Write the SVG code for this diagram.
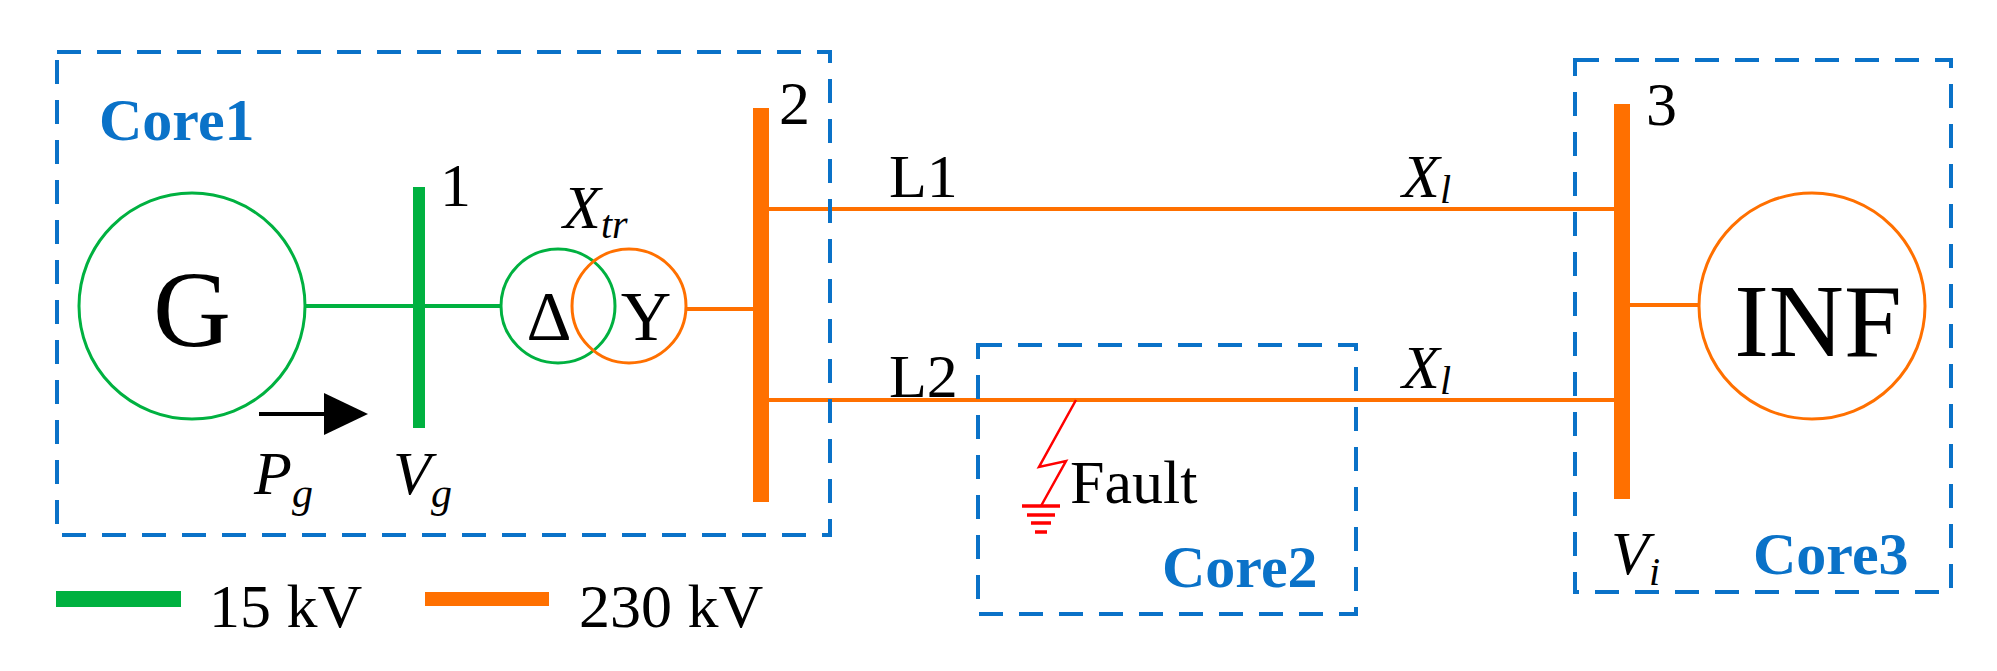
<svg xmlns="http://www.w3.org/2000/svg" width="1997" height="671" viewBox="0 0 1997 671">
<style>
.box{fill:none;stroke:#0a72c8;stroke-width:4;stroke-dasharray:24,16}
.core{font-family:"Liberation Serif",serif;font-size:60px;font-weight:bold;fill:#0a72c8}
.t{font-family:"Liberation Serif",serif;font-size:62px;fill:#000}
.i{font-style:italic}
.g{stroke:#00b140;fill:none}
.o{stroke:#ff7000;fill:none}
.f{stroke:#ff0000;fill:none}
</style>
<rect width="1997" height="671" fill="#fff"/>
<g id="connectors">
<line class="g" x1="305" y1="306" x2="501" y2="306" stroke-width="4"/>
<line class="o" x1="686" y1="309" x2="761" y2="309" stroke-width="4"/>
<line class="o" x1="761" y1="209" x2="1622" y2="209" stroke-width="4"/>
<line class="o" x1="761" y1="400" x2="1622" y2="400" stroke-width="4"/>
<line class="o" x1="1622" y1="305" x2="1699" y2="305" stroke-width="4"/>
<line x1="259" y1="414" x2="330" y2="414" stroke="#000" stroke-width="4"/>
<path d="M324,393 L368,414 L324,435Z" fill="#000"/>
</g>
<g id="core1"><rect class="box" x="57" y="52" width="773" height="483"/><text class="core" x="99" y="140">Core1</text></g>
<g id="core2"><rect class="box" x="978" y="345" width="378" height="269"/><text class="core" x="1162" y="587">Core2</text></g>
<g id="core3"><rect class="box" x="1575" y="60" width="376" height="532"/><text class="core" x="1753" y="574">Core3</text></g>
<g id="G"><circle class="g" cx="192" cy="306" r="113" stroke-width="3"/><text class="t" x="192" y="346" style="font-size:108px" text-anchor="middle">G</text></g>
<g id="bus1"><line class="g" x1="419" y1="187" x2="419" y2="428" stroke-width="12"/><text class="t" x="440" y="206">1</text><text class="t i" x="393" y="494">V<tspan font-size="42" dy="13">g</tspan></text></g>
<g id="transformer"><circle class="g" cx="558" cy="306" r="57" stroke-width="3"/><circle class="o" cx="629" cy="306" r="57" stroke-width="3"/><text class="t" x="549" y="340" style="font-size:70px" text-anchor="middle">Δ</text><text class="t" x="646" y="340" style="font-size:70px" text-anchor="middle">Y</text><text class="t i" x="563" y="228">X<tspan font-size="40" dy="10">tr</tspan></text></g>
<g id="bus2"><line class="o" x1="761" y1="108" x2="761" y2="502" stroke-width="16"/><text class="t" x="779" y="124">2</text></g>
<g id="L1"><text class="t" x="889" y="197">L1</text><text class="t i" x="1402" y="197">X<tspan font-size="40" dy="6">l</tspan></text></g>
<g id="L2"><text class="t" x="889" y="397">L2</text><text class="t i" x="1402" y="388">X<tspan font-size="40" dy="6">l</tspan></text></g>
<g id="fault"><path class="f" d="M1076,400 L1039,467 L1066,461 L1041,506" stroke-width="2.5"/><line class="f" x1="1022" y1="506" x2="1060" y2="506" stroke-width="3.5"/><line class="f" x1="1027" y1="515" x2="1055" y2="515" stroke-width="3.5"/><line class="f" x1="1031" y1="523" x2="1051" y2="523" stroke-width="3.5"/><line class="f" x1="1035" y1="532" x2="1047" y2="532" stroke-width="3.5"/><text class="t" x="1070" y="503">Fault</text></g>
<g id="bus3"><line class="o" x1="1622" y1="104" x2="1622" y2="499" stroke-width="16"/><text class="t" x="1646" y="125">3</text><text class="t i" x="1611" y="574">V<tspan font-size="40" dy="11">i</tspan></text></g>
<g id="INF"><circle class="o" cx="1812" cy="306" r="113" stroke-width="3"/><text class="t" x="1818" y="356" style="font-size:104px" text-anchor="middle">INF</text></g>
<g id="Pg"><text class="t i" x="254" y="494">P<tspan font-size="42" dy="13">g</tspan></text></g>
<g id="legend"><line class="g" x1="56" y1="599" x2="181" y2="599" stroke-width="16"/><text class="t" x="209" y="627">15 kV</text><line class="o" x1="425" y1="599" x2="549" y2="599" stroke-width="14"/><text class="t" x="579" y="627">230 kV</text></g>
</svg>
